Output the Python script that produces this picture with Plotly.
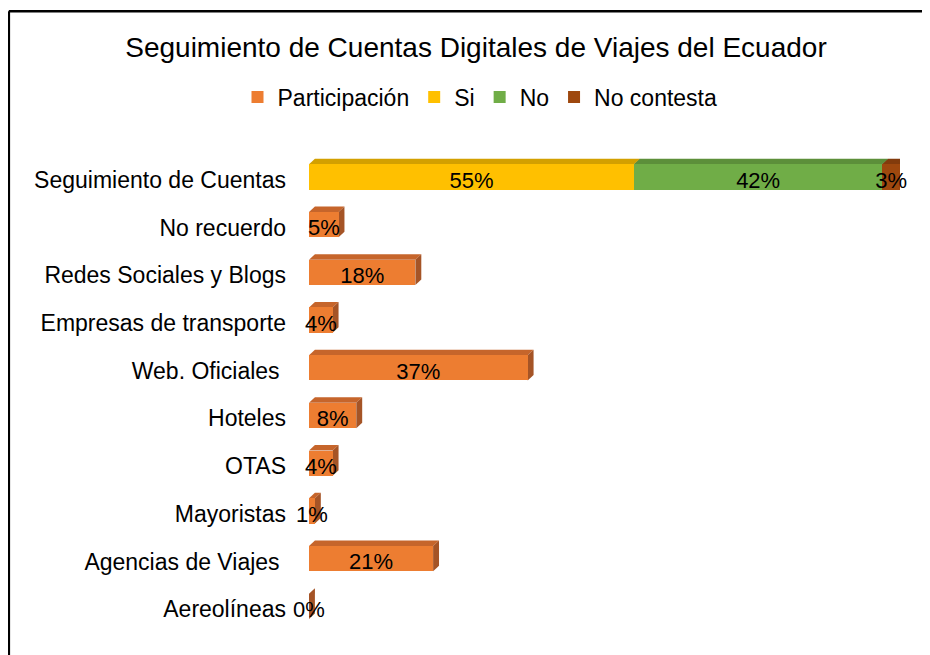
import plotly.graph_objects as go

categorias = ["Seguimiento de Cuentas", "No recuerdo", "Redes Sociales y Blogs",
              "Empresas de transporte", "Web. Oficiales ", "Hoteles", "OTAS",
              "Mayoristas", "Agencias de Viajes ", "Aereolíneas"]
participacion = [None, 5, 18, 4, 37, 8, 4, 1, 21, 0]
si = [55, None, None, None, None, None, None, None, None, None]
no = [42, None, None, None, None, None, None, None, None, None]
no_contesta = [3, None, None, None, None, None, None, None, None, None]

series = [
    ("Participación", participacion, "#ED7D31", "#C6652B", "#A55426"),
    ("Si", si, "#FFC000", "#D3A000", "#AF8500"),
    ("No", no, "#70AD47", "#5C8F3A", "#4B7530"),
    ("No contesta", no_contesta, "#9E480E", "#823B0C", "#66300A"),
]

FONT = "Liberation Sans, Arial, sans-serif"
ancho = 0.53      # grosor de la barra (unidades de categoria)
desplaz = -0.06   # la cara frontal va un poco arriba de la etiqueta
dx, dy = 1.0, 0.115  # profundidad del efecto 3D

# la pagina tiene 8px de margen arriba/izquierda
W, H = 922, 647
L, R, T, B = 301, 30, 148, 22

fig = go.Figure()
shapes = []
pos = list(range(len(categorias)))
acum = [0] * len(categorias)

for nombre, valores, c_front, c_top, c_side in series:
    fig.add_trace(go.Bar(
        name=nombre, y=pos, x=valores, orientation="h",
        marker=dict(color=c_front, line=dict(width=0)),
        width=ancho, offset=desplaz - ancho / 2,
        hoverinfo="skip"))
    tx, ty, tt = [], [], []
    for i, v in enumerate(valores):
        if v is None:
            continue
        x0 = acum[i]
        x1 = x0 + v
        yt = i + desplaz - ancho / 2
        yb = i + desplaz + ancho / 2
        # cara superior
        shapes.append(dict(type="path", xref="x", yref="y", layer="below",
                           path=f"M{x0},{yt} L{x0+dx},{yt-dy} L{x1+dx},{yt-dy} L{x1},{yt} Z",
                           fillcolor=c_top, line=dict(width=0)))
        # cara lateral
        shapes.append(dict(type="path", xref="x", yref="y", layer="below",
                           path=f"M{x1},{yt} L{x1+dx},{yt-dy} L{x1+dx},{yb-dy} L{x1},{yb} Z",
                           fillcolor=c_side, line=dict(width=0)))
        tx.append(x0 + v / 2)
        ty.append(i + desplaz + 0.11)
        tt.append(f"{v}%")
        acum[i] = x1
    fig.add_trace(go.Scatter(x=tx, y=ty, text=tt, mode="text", showlegend=False,
                             cliponaxis=False,
                             textfont=dict(family=FONT, size=22, color="black"),
                             hoverinfo="skip"))

# marco del grafico
pw, ph = W - L - R, H - T - B
x_izq = (0.8 - L) / pw
y_sup = (H - B - 3.3) / ph
shapes.append(dict(type="line", xref="paper", yref="paper", x0=x_izq, x1=x_izq,
                   y0=-0.2, y1=y_sup, line=dict(color="black", width=2.6)))
shapes.append(dict(type="line", xref="paper", yref="paper", x0=x_izq, x1=1.2,
                   y0=y_sup, y1=y_sup, line=dict(color="black", width=2.6)))

fig.update_layout(
    width=W, height=H,
    margin=dict(l=L, r=R, t=T, b=B),
    barmode="stack",
    paper_bgcolor="white", plot_bgcolor="white",
    font=dict(family=FONT, size=23, color="black"),
    title=dict(text="Seguimiento de Cuentas Digitales de Viajes del Ecuador",
               x=468 / W, xanchor="center", y=1 - 39 / H, yanchor="middle",
               font=dict(size=28, family=FONT, color="black")),
    legend=dict(orientation="h", xref="container", yref="container",
                x=472 / W, xanchor="center", y=1 - 89 / H, yanchor="middle",
                font=dict(size=23, family=FONT), traceorder="normal",
                itemwidth=30, bgcolor="rgba(0,0,0,0)"),
    xaxis=dict(range=[0, 100], visible=False, fixedrange=True),
    yaxis=dict(range=[9.5, -0.5], tickvals=pos, ticktext=categorias,
               showgrid=False, zeroline=False, showline=False, ticks="",
               ticklabelstandoff=22, tickfont=dict(size=23, family=FONT)),
    shapes=shapes,
    showlegend=True,
)

fig.write_html("out.html")
